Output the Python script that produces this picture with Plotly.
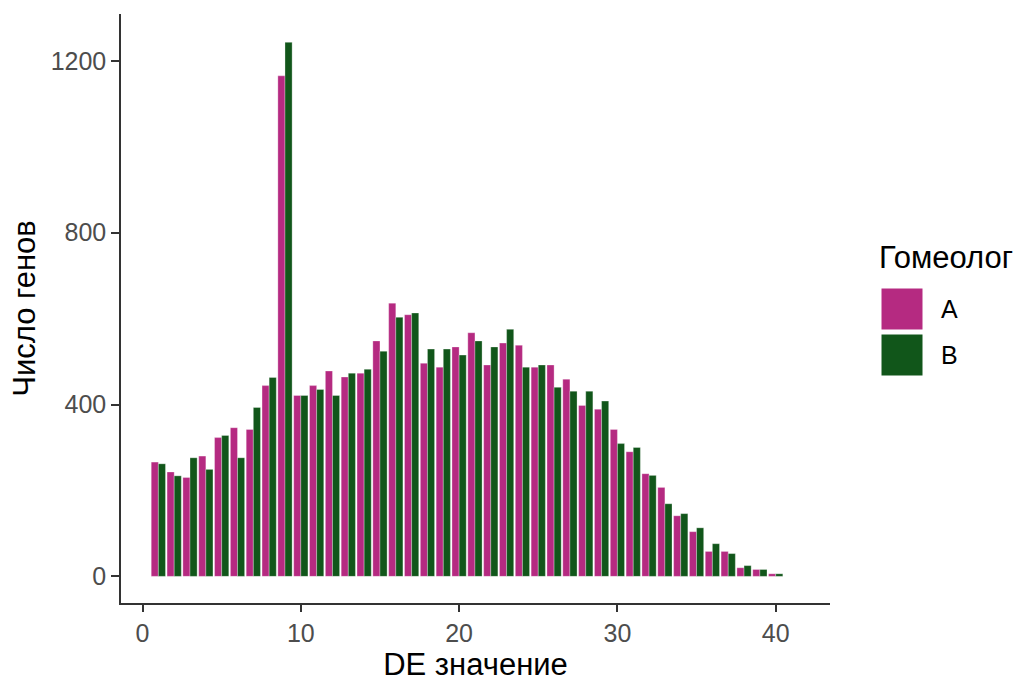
import plotly.graph_objects as go

de_values = list(range(1, 41))
counts_A = [266, 243, 230, 280, 323, 346, 342, 444, 1165, 421,
            444, 478, 464, 473, 548, 636, 609, 496, 487, 534,
            567, 492, 543, 538, 487, 492, 459, 398, 389, 342,
            290, 239, 207, 141, 104, 58, 58, 20, 16, 6]
counts_B = [262, 234, 276, 249, 328, 276, 393, 463, 1243, 421,
            435, 421, 473, 482, 524, 603, 613, 529, 529, 515,
            548, 534, 575, 487, 492, 440, 431, 431, 408, 309,
            300, 235, 169, 146, 113, 76, 53, 25, 16, 6]
series_names = ["A", "B"]
colors = ["#B52A81", "#11561A"]

FONT = "Liberation Sans, Arial, sans-serif"
TICK_SIZE = 25
TITLE_SIZE = 31

fig = go.Figure()
for name, vals, col in zip(series_names, [counts_A, counts_B], colors):
    fig.add_trace(go.Bar(x=de_values, y=vals, name=name, marker_color=col,
                         marker_line=dict(color="rgba(255,255,255,0.6)", width=0.5),
                         showlegend=False))

fig.update_layout(
    width=1021, height=684,
    margin=dict(l=121, r=191, t=14, b=81),
    paper_bgcolor="white", plot_bgcolor="white",
    barmode="group", bargap=0.1, bargroupgap=0,
    font=dict(family=FONT, color="#000000"),
    xaxis=dict(range=[-1.36, 43.43], tickvals=[0, 10, 20, 30, 40],
               showgrid=False, zeroline=False,
               showline=True, linecolor="#333333", linewidth=1.5,
               ticks="outside", ticklen=7, tickcolor="#333333", tickwidth=1.5,
               tickfont=dict(size=TICK_SIZE, color="#4D4D4D", family=FONT),
               title=dict(text="DE значение", font=dict(size=TITLE_SIZE, family=FONT), standoff=4)),
    yaxis=dict(range=[-62, 1309], tickvals=[0, 400, 800, 1200],
               showgrid=False, zeroline=False,
               showline=True, linecolor="#333333", linewidth=1.5,
               ticks="outside", ticklen=8, tickcolor="#333333", tickwidth=1.5,
               tickfont=dict(size=TICK_SIZE, color="#4D4D4D", family=FONT),
               title=dict(text="Число генов", font=dict(size=TITLE_SIZE, family=FONT), standoff=6)),
)

# manual legend (ggplot-style large keys)
dom_w = 1021 - 121 - 191
dom_h = 684 - 14 - 81
def px(xp):
    return (xp - 121) / dom_w
def py(yp):
    return (684 - 81 - yp) / dom_h

key_boxes = [(288, 330), (334, 376)]
for (y0, y1), name, col in zip(key_boxes, series_names, colors):
    fig.add_shape(type="rect", xref="paper", yref="paper",
                  x0=px(881), x1=px(923), y0=py(y1), y1=py(y0),
                  fillcolor=col, line=dict(color="white", width=1))
    fig.add_annotation(xref="paper", yref="paper", x=px(939), y=py((y0 + y1) / 2),
                       text=name, showarrow=False, xanchor="left", yanchor="middle",
                       font=dict(size=TICK_SIZE, family=FONT, color="#000000"))
fig.add_annotation(xref="paper", yref="paper", x=px(877), y=py(257),
                   text="Гомеолог", showarrow=False, xanchor="left", yanchor="middle",
                   font=dict(size=TITLE_SIZE, family=FONT, color="#000000"))

fig.write_html("out.html")
